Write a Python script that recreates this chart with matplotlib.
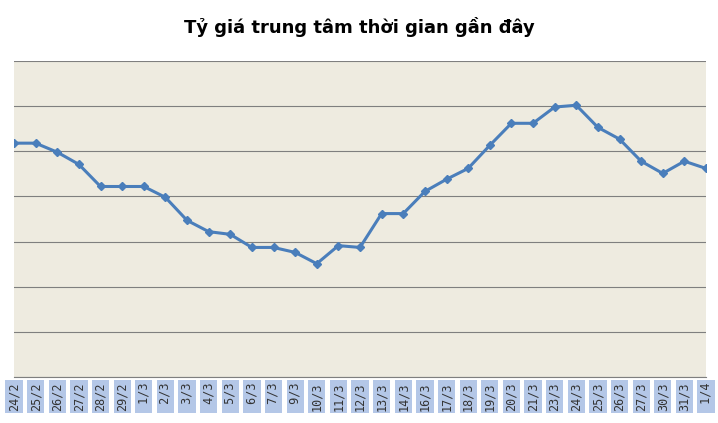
import matplotlib.pyplot as plt

dates = ['24/2', '25/2', '26/2', '27/2', '28/2', '29/2', '1/3', '2/3', '3/3', '4/3', '5/3',
         '6/3', '7/3', '9/3', '10/3', '11/3', '12/3', '13/3', '14/3', '16/3', '17/3', '18/3',
         '19/3', '20/3', '21/3', '23/3', '24/3', '25/3', '26/3', '27/3', '30/3', '31/3', '1/4']
rates = [21831.8, 21831.8, 21829.8, 21827.1, 21822.2, 21822.2, 21822.2, 21819.8, 21814.7,
         21812.2, 21811.6, 21808.7, 21808.7, 21807.6, 21805.1, 21809.1, 21808.7, 21816.2,
         21816.2, 21821.1, 21823.8, 21826.2, 21831.3, 21836.2, 21836.2, 21839.8, 21840.2,
         21835.3, 21832.7, 21827.8, 21825.1, 21827.8, 21826.2]

fig = plt.figure(figsize=(7.18, 4.23), dpi=100)
ax = fig.add_axes([14 / 718, 1 - 377 / 423, 692 / 718, 316 / 423])
ax.set_facecolor('#EEEBE0')
x = list(range(len(dates)))
ax.plot(x, rates, '-D', color='#4A7EBB', linewidth=2.2, markersize=4.5)
ax.set_xlim(0, len(dates) - 1)
ax.set_ylim(21780, 21850)
ax.set_yticks(range(21780, 21851, 10))
ax.set_yticklabels([])
ax.tick_params(axis='y', length=0)
ax.grid(axis='y', color='#7F7F7F', linewidth=0.8)
ax.set_xticks(x)
ax.set_xticklabels([d.rjust(4) for d in dates], rotation=90, fontsize=8.5,
                   color='#333333', family='DejaVu Sans Mono')
for lbl in ax.get_xticklabels():
    lbl.set_bbox(dict(facecolor='#B4C7E7', edgecolor='none', pad=1.5))
ax.tick_params(axis='x', length=0, pad=4)
for s in ['top', 'right', 'left']:
    ax.spines[s].set_visible(False)
ax.spines['bottom'].set_color('#7F7F7F')
fig.suptitle('Tỷ giá trung tâm thời gian gần đây', y=0.96, fontsize=13, fontweight='bold')
fig.savefig('out.png', dpi=100)
